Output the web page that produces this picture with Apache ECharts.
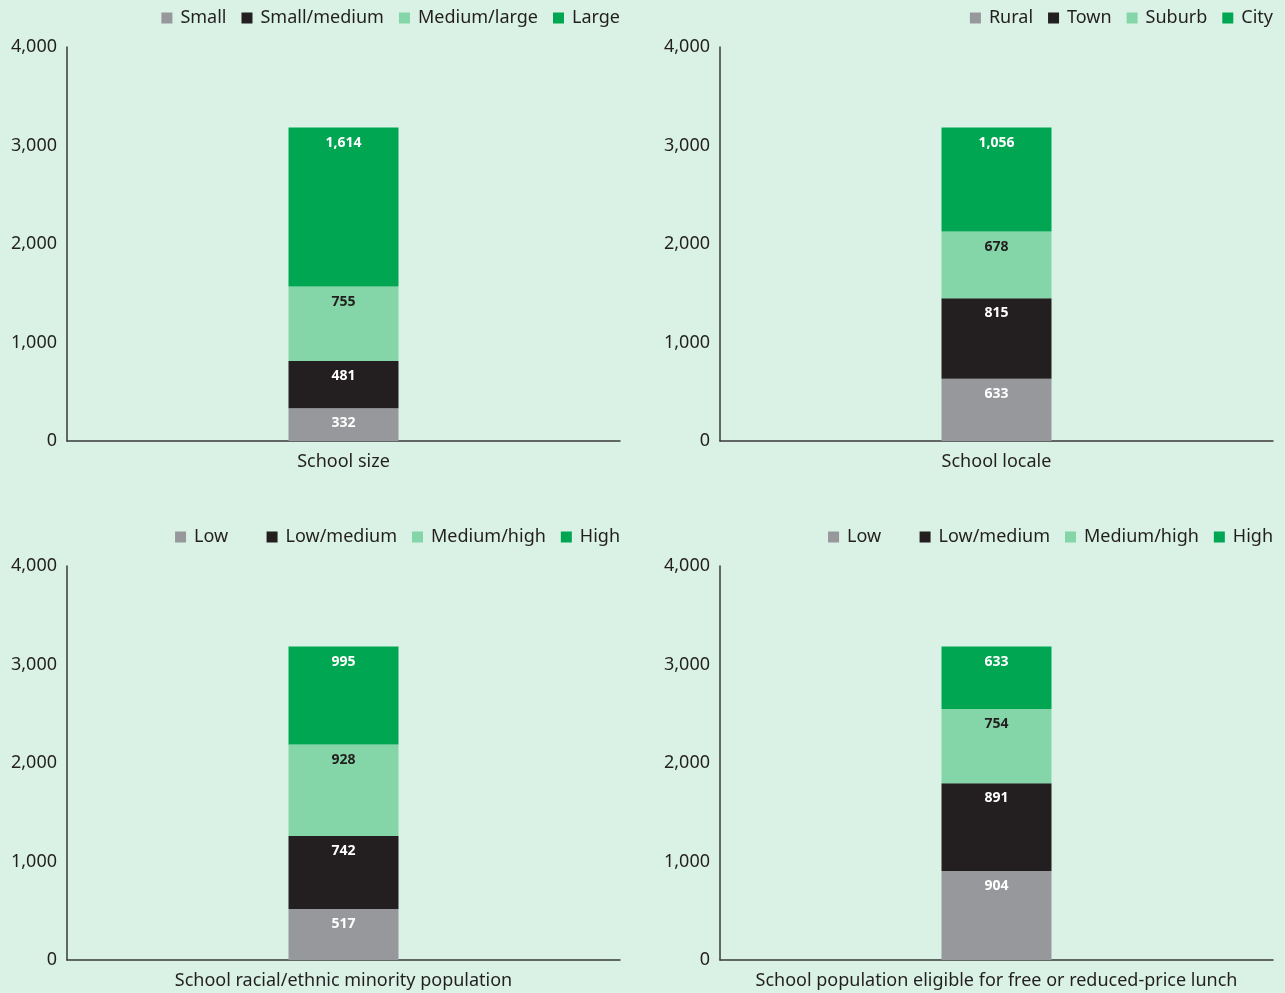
<!DOCTYPE html>
<html>
<head>
<meta charset="utf-8">
<script src="https://cdn.jsdelivr.net/npm/echarts@6/dist/echarts.min.js"></script>
<style>
html,body{margin:0;padding:0;background:#daf2e6;}
#c{width:1285px;height:993px;}
</style>
</head>
<body>
<div id="c"></div>
<script>
const panelTitles = ['School size', 'School locale', 'School racial/ethnic minority population', 'School population eligible for free or reduced-price lunch'];
const sizeNames = ['Small', 'Small/medium', 'Medium/large', 'Large'];
const sizeValues = [332, 481, 755, 1614];
const localeNames = ['Rural', 'Town', 'Suburb', 'City'];
const localeValues = [633, 815, 678, 1056];
const minorityNames = ['Low', 'Low/medium', 'Medium/high', 'High'];
const minorityValues = [517, 742, 928, 995];
const lunchNames = ['Low', 'Low/medium', 'Medium/high', 'High'];
const lunchValues = [904, 891, 754, 633];
const yTicks = [0, 1000, 2000, 3000, 4000];

const colors = ['#97989c', '#231f20', '#84d6a8', '#00a651'];
const labelColors = ['#ffffff', '#ffffff', '#231f20', '#ffffff'];
const FONT = '"Noto Sans", "Open Sans", sans-serif';
const TXT = '#231f20';

const panels = [
  {names: sizeNames, values: sizeValues},
  {names: localeNames, values: localeValues},
  {names: minorityNames, values: minorityValues},
  {names: lunchNames, values: lunchValues}
];
const gridPos = [
  {left: 67, right: 665, top: 47, height: 394},
  {left: 720, right: 12, top: 47, height: 394},
  {left: 67, right: 665, top: 566, height: 394},
  {left: 720, right: 12, top: 566, height: 394}
];
const legendPos = [
  {right: 665, top: 9},
  {right: 12, top: 9},
  {right: 665, top: 528},
  {right: 12, top: 528}
];

const grid = [], xAxis = [], yAxis = [], series = [], legend = [];
panels.forEach((p, i) => {
  grid.push(gridPos[i]);
  xAxis.push({
    type: 'category', gridIndex: i, data: [panelTitles[i]],
    axisLine: {lineStyle: {color: '#3a3a3a', width: 1.5}},
    axisTick: {show: false},
    axisLabel: {color: TXT, fontSize: 18, fontFamily: FONT, margin: 12}
  });
  yAxis.push({
    type: 'value', gridIndex: i, min: yTicks[0], max: yTicks[yTicks.length - 1], interval: 1000,
    axisLine: {show: true, lineStyle: {color: '#3a3a3a', width: 1.5}},
    axisTick: {show: false},
    splitLine: {show: false},
    axisLabel: {color: TXT, fontSize: 18, fontFamily: FONT, margin: 10,
      formatter: v => v.toLocaleString('en-US')}
  });
  p.names.forEach((n, k) => {
    series.push({
      type: 'bar', name: n, xAxisIndex: i, yAxisIndex: i, stack: 's' + i,
      barWidth: 110, data: [p.values[k]],
      itemStyle: {color: colors[k]},
      label: {show: true, position: 'insideTop', distance: 8, fontSize: 14, fontWeight: 'bold',
        fontFamily: FONT, color: labelColors[k],
        formatter: q => q.value.toLocaleString('en-US')}
    });
  });
  legend.push(Object.assign({
    data: p.names, orient: 'horizontal', itemWidth: 11, itemHeight: 11, itemGap: 15,
    icon: 'rect', selectedMode: false, padding: 0,
    textStyle: {color: TXT, fontSize: 18, fontFamily: FONT, padding: [0, 0, 0, 3]},
    formatter: name => (i >= 2 && name === 'Low') ? 'Low\u00a0\u00a0\u00a0\u00a0\u00a0' : name
  }, legendPos[i]));
});

const chart = echarts.init(document.getElementById('c'), null, {renderer: 'canvas'});
chart.setOption({
  backgroundColor: '#daf2e6',
  animation: false,
  grid, xAxis, yAxis, series, legend
});
</script>
</body>
</html>
